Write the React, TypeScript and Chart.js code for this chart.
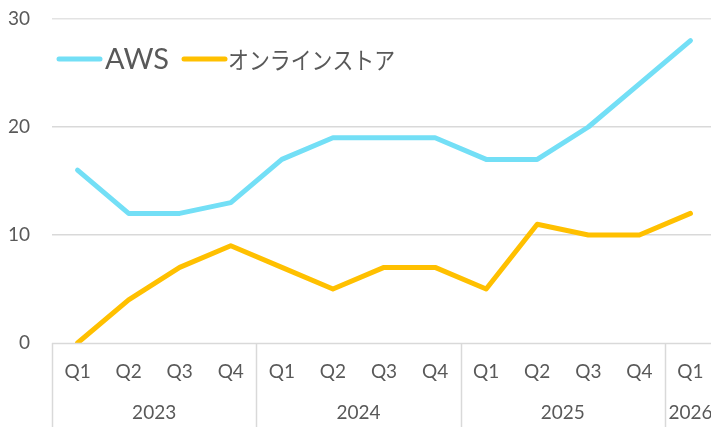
import React, { useEffect, useRef } from "react";
import { Chart, registerables } from "chart.js";

Chart.register(...registerables);

const quarters = ["Q1", "Q2", "Q3", "Q4", "Q1", "Q2", "Q3", "Q4", "Q1", "Q2", "Q3", "Q4", "Q1"];
const years = ["2023", "2024", "2025", "2026"];
const yearSpans = [4, 4, 4, 1];
const awsValues = [16, 12, 12, 13, 17, 19, 19, 19, 17, 17, 20, 24, 28];
const storeValues = [0, 4, 7, 9, 7, 5, 7, 7, 5, 11, 10, 10, 12];
const seriesNames = ["AWS", "オンラインストア"];
const yTicks = [0, 10, 20, 30];

const AWS_COLOR = "#73DFF6";
const STORE_COLOR = "#FFC000";
const TEXT = "#595959";
const GRID = "#D9D9D9";
const TICK_FONT = "Lato, 'Liberation Sans', sans-serif";
const LEGEND_FONT = "'Noto Sans CJK JP', sans-serif";

const overlay = {
  id: "overlay",
  afterDraw(chart: any) {
    const { ctx, chartArea, scales } = chart;
    const x = scales.x;
    const step = x.getPixelForValue(1) - x.getPixelForValue(0);
    const bottom = chartArea.bottom;
    ctx.save();
    ctx.strokeStyle = GRID;
    ctx.lineWidth = 1.5;
    ctx.beginPath();
    ctx.moveTo(chartArea.left, bottom + 0.5);
    ctx.lineTo(chartArea.right, bottom + 0.5);
    ctx.stroke();
    let idx = 0;
    ctx.font = `19px ${TICK_FONT}`;
    ctx.fillStyle = TEXT;
    ctx.textAlign = "center";
    ctx.textBaseline = "middle";
    years.forEach((yr, g) => {
      const left = x.getPixelForValue(idx) - step / 2;
      const right = x.getPixelForValue(idx + yearSpans[g] - 1) + step / 2;
      ctx.beginPath();
      ctx.moveTo(Math.round(left) + 0.5, bottom);
      ctx.lineTo(Math.round(left) + 0.5, chart.height);
      ctx.stroke();
      ctx.fillText(yr, (left + right) / 2, bottom + 70);
      idx += yearSpans[g];
    });
    quarters.forEach((q, i) => {
      ctx.fillText(q, x.getPixelForValue(i), bottom + 29);
    });
    // legend
    const ly = chartArea.top + 40;
    const lineStarts = [chartArea.left + 7, chartArea.left + 132];
    const fonts = [`29px ${TICK_FONT}`, `24px ${LEGEND_FONT}`];
    const scalesX = [1, 0.87];
    const gaps = [5, 3];
    ctx.textAlign = "left";
    ctx.lineCap = "round";
    [AWS_COLOR, STORE_COLOR].forEach((c, i) => {
      const lx = lineStarts[i];
      ctx.strokeStyle = c;
      ctx.lineWidth = 5;
      ctx.beginPath();
      ctx.moveTo(lx, ly);
      ctx.lineTo(lx + 41, ly);
      ctx.stroke();
      ctx.fillStyle = TEXT;
      ctx.font = fonts[i];
      ctx.save();
      ctx.translate(lx + 41 + gaps[i], ly + 1);
      ctx.scale(scalesX[i], 1);
      ctx.fillText(seriesNames[i], 0, 0);
      ctx.restore();
    });
    ctx.restore();
  },
};

export default function App() {
  const ref = useRef<HTMLCanvasElement>(null);
  useEffect(() => {
    document.body.style.margin = "0";
    const chart = new Chart(ref.current!, {
      type: "line",
      data: {
        labels: quarters,
        datasets: [
          {
            label: seriesNames[0],
            data: awsValues,
            borderColor: AWS_COLOR,
            borderWidth: 5,
            pointRadius: 0,
            borderCapStyle: "round",
            borderJoinStyle: "round",
            tension: 0,
          },
          {
            label: seriesNames[1],
            data: storeValues,
            borderColor: STORE_COLOR,
            borderWidth: 5,
            pointRadius: 0,
            borderCapStyle: "round",
            borderJoinStyle: "round",
            tension: 0,
          },
        ],
      },
      options: {
        animation: false,
        responsive: false,
        devicePixelRatio: 1,
        layout: { padding: { top: 19, bottom: 84, left: 0, right: 4 } },
        plugins: { legend: { display: false }, tooltip: { enabled: false } },
        scales: {
          x: { type: "category", offset: true, display: false },
          y: {
            min: 0,
            max: 30,
            afterBuildTicks: (s: any) => {
              s.ticks = yTicks.map((v) => ({ value: v }));
            },
            afterFit: (s: any) => {
              s.width = 52;
            },
            border: { display: false },
            grid: {
              color: (c: any) => (c.tick && c.tick.value === 0 ? "rgba(0,0,0,0)" : c.tick && c.tick.value === 30 ? "#E3E3E3" : GRID),
              lineWidth: 1.5,
              drawTicks: true,
              tickLength: 22,
              tickColor: "rgba(0,0,0,0)",
            },
            ticks: {
              padding: 0,
              color: TEXT,
              font: { family: TICK_FONT, size: 19 },
            },
          },
        },
      },
      plugins: [overlay],
    });
    return () => chart.destroy();
  }, []);
  return (
    <div style={{ position: "fixed", left: 0, top: 0, width: 711, height: 427, overflow: "hidden", background: "#fff" }}>
      <canvas ref={ref} width={720} height={427} style={{ width: 720, height: 427, display: "block" }} />
    </div>
  );
}
